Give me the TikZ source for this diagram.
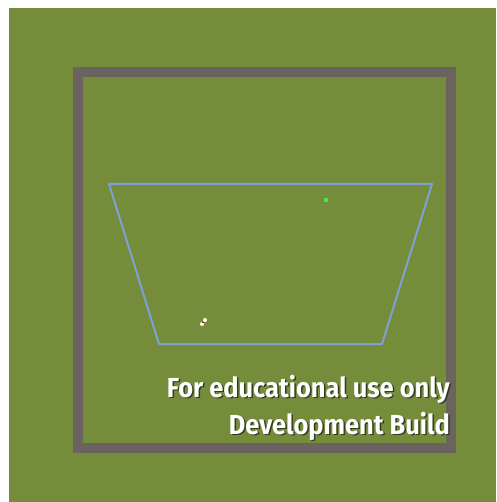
\documentclass[tikz,border=0pt]{standalone}
\usepackage{fontspec}
\setmainfont{Fira Sans}
\usepackage{graphicx}
\definecolor{field}{RGB}{117,140,58}
\definecolor{frame}{RGB}{107,99,96}
\definecolor{path}{RGB}{125,160,215}
\definecolor{dotgreen}{RGB}{70,230,70}
\definecolor{shadow}{RGB}{30,35,20}
\newlength\lineonewidth
\newcommand{\wmfont}{\fontsize{27.5pt}{30pt}\bfseries\selectfont}
\settowidth\lineonewidth{\wmfont For educational use only}
\pgfmathsetmacro\wmscale{283/\lineonewidth}
\newcommand{\wmtext}[1]{\scalebox{\wmscale}[1]{\wmfont #1}}
\tikzset{
  wmshadow/.style={anchor=base east, inner sep=0pt, text=shadow, opacity=0.75},
  wmlabel/.style={anchor=base east, inner sep=0pt, text=white},
  framebox/.style={draw=frame, line width=10pt},
  trackline/.style={draw=path, line width=2pt, line join=round},
}
\begin{document}
\begin{tikzpicture}[x=1pt,y=-1pt]
\useasboundingbox (0,0) rectangle (496,502);
\fill[white] (0,0) rectangle (496,502);
\fill[field] (9,8) rectangle (496,502);
\draw[framebox] (78,72.5) rectangle (451,448);
\draw[trackline] (109,184) -- (432,184) -- (382,344) -- (159,344) -- cycle;
\fill[dotgreen] (324,198) rectangle (328,202);
\node[circle, fill=white, inner sep=0pt, minimum size=4pt] (p1) at (205,320) {};
\node[circle, fill=white, inner sep=0pt, minimum size=4pt] (p2) at (202,324) {};
\fill[red!80!black] (201.5,321.5) rectangle (203.5,323);
% watermark text
\node[wmshadow] (s1) at (451.5,398.5) {\wmtext{For educational use only}};
\node[wmshadow] (s2) at (451.5,435.5) {\wmtext{Development Build}};
\node[wmlabel] (t1) at (450,397) {\wmtext{For educational use only}};
\node[wmlabel] (t2) at (450,434) {\wmtext{Development Build}};
\end{tikzpicture}
\end{document}
